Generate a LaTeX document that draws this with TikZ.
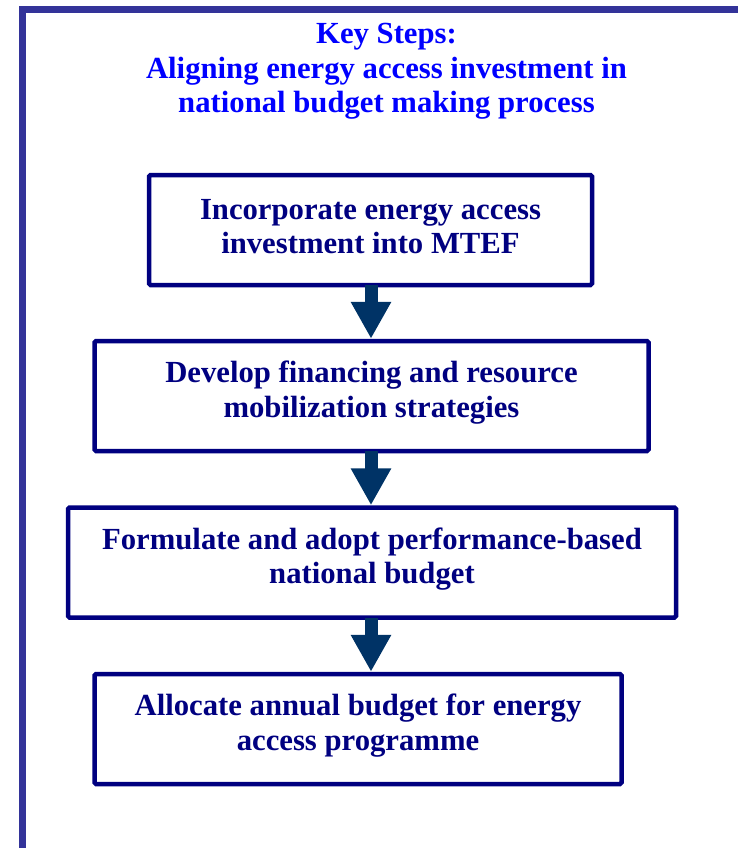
\documentclass[tikz,border=0pt]{standalone}
\usepackage{fontspec}
\setmainfont{Liberation Serif}
\usetikzlibrary{arrows.meta}
\definecolor{framec}{HTML}{333399}
\definecolor{boxc}{HTML}{000080}
\definecolor{arrowc}{HTML}{003366}
\definecolor{titlec}{HTML}{0000FF}
\begin{document}
\begin{tikzpicture}[x=1pt,y=1pt,
  stepbox/.style={draw=boxc, line width=4.5pt, rounded corners=1.5pt, inner sep=0pt},
  steptext/.style={text=boxc, font=\fontsize{30.7}{34.5}\selectfont\bfseries, align=center, inner sep=0pt},
  flowarrow/.style={draw=arrowc, line width=13pt,
    -{Triangle[width=38pt,length=37pt,fill=arrowc]}, shorten <=-2pt}
]
\useasboundingbox (0,0) rectangle (738,-848);
\draw[framec, line width=7pt] (22.5,-848) -- (22.5,-9.5) -- (738,-9.5);
\node[text=titlec, font=\fontsize{30.7}{34.5}\selectfont\bfseries, align=center, inner sep=0pt] (title) at (386.5,-71.5)
  {Key Steps:\\Aligning energy access investment in\\national budget making process};
\node[stepbox, minimum width=443pt, minimum height=110pt] (b1) at (370.5,-230) {};
\node[stepbox, minimum width=554pt, minimum height=110pt] (b2) at (371.5,-396) {};
\node[stepbox, minimum width=608pt, minimum height=110pt] (b3) at (372,-562.5) {};
\node[stepbox, minimum width=527pt, minimum height=110pt] (b4) at (358,-729) {};
\node[steptext] (t1) at ([yshift=3.5pt]b1.center) {Incorporate energy access\\investment into MTEF};
\node[steptext] (t2) at ([yshift=3.5pt]b2.center) {Develop financing and resource\\mobilization strategies};
\node[steptext] (t3) at ([yshift=3.5pt]b3.center) {Formulate and adopt performance-based\\national budget};
\node[steptext] (t4) at ([yshift=3.5pt]b4.center) {Allocate annual budget for energy\\access programme};
\draw[flowarrow] (b1.south -| 371,0) -- (b2.north -| 371,0);
\draw[flowarrow] (b2.south -| 371,0) -- (b3.north -| 371,0);
\draw[flowarrow] (b3.south -| 371,0) -- (b4.north -| 371,0);
\end{tikzpicture}
\end{document}
